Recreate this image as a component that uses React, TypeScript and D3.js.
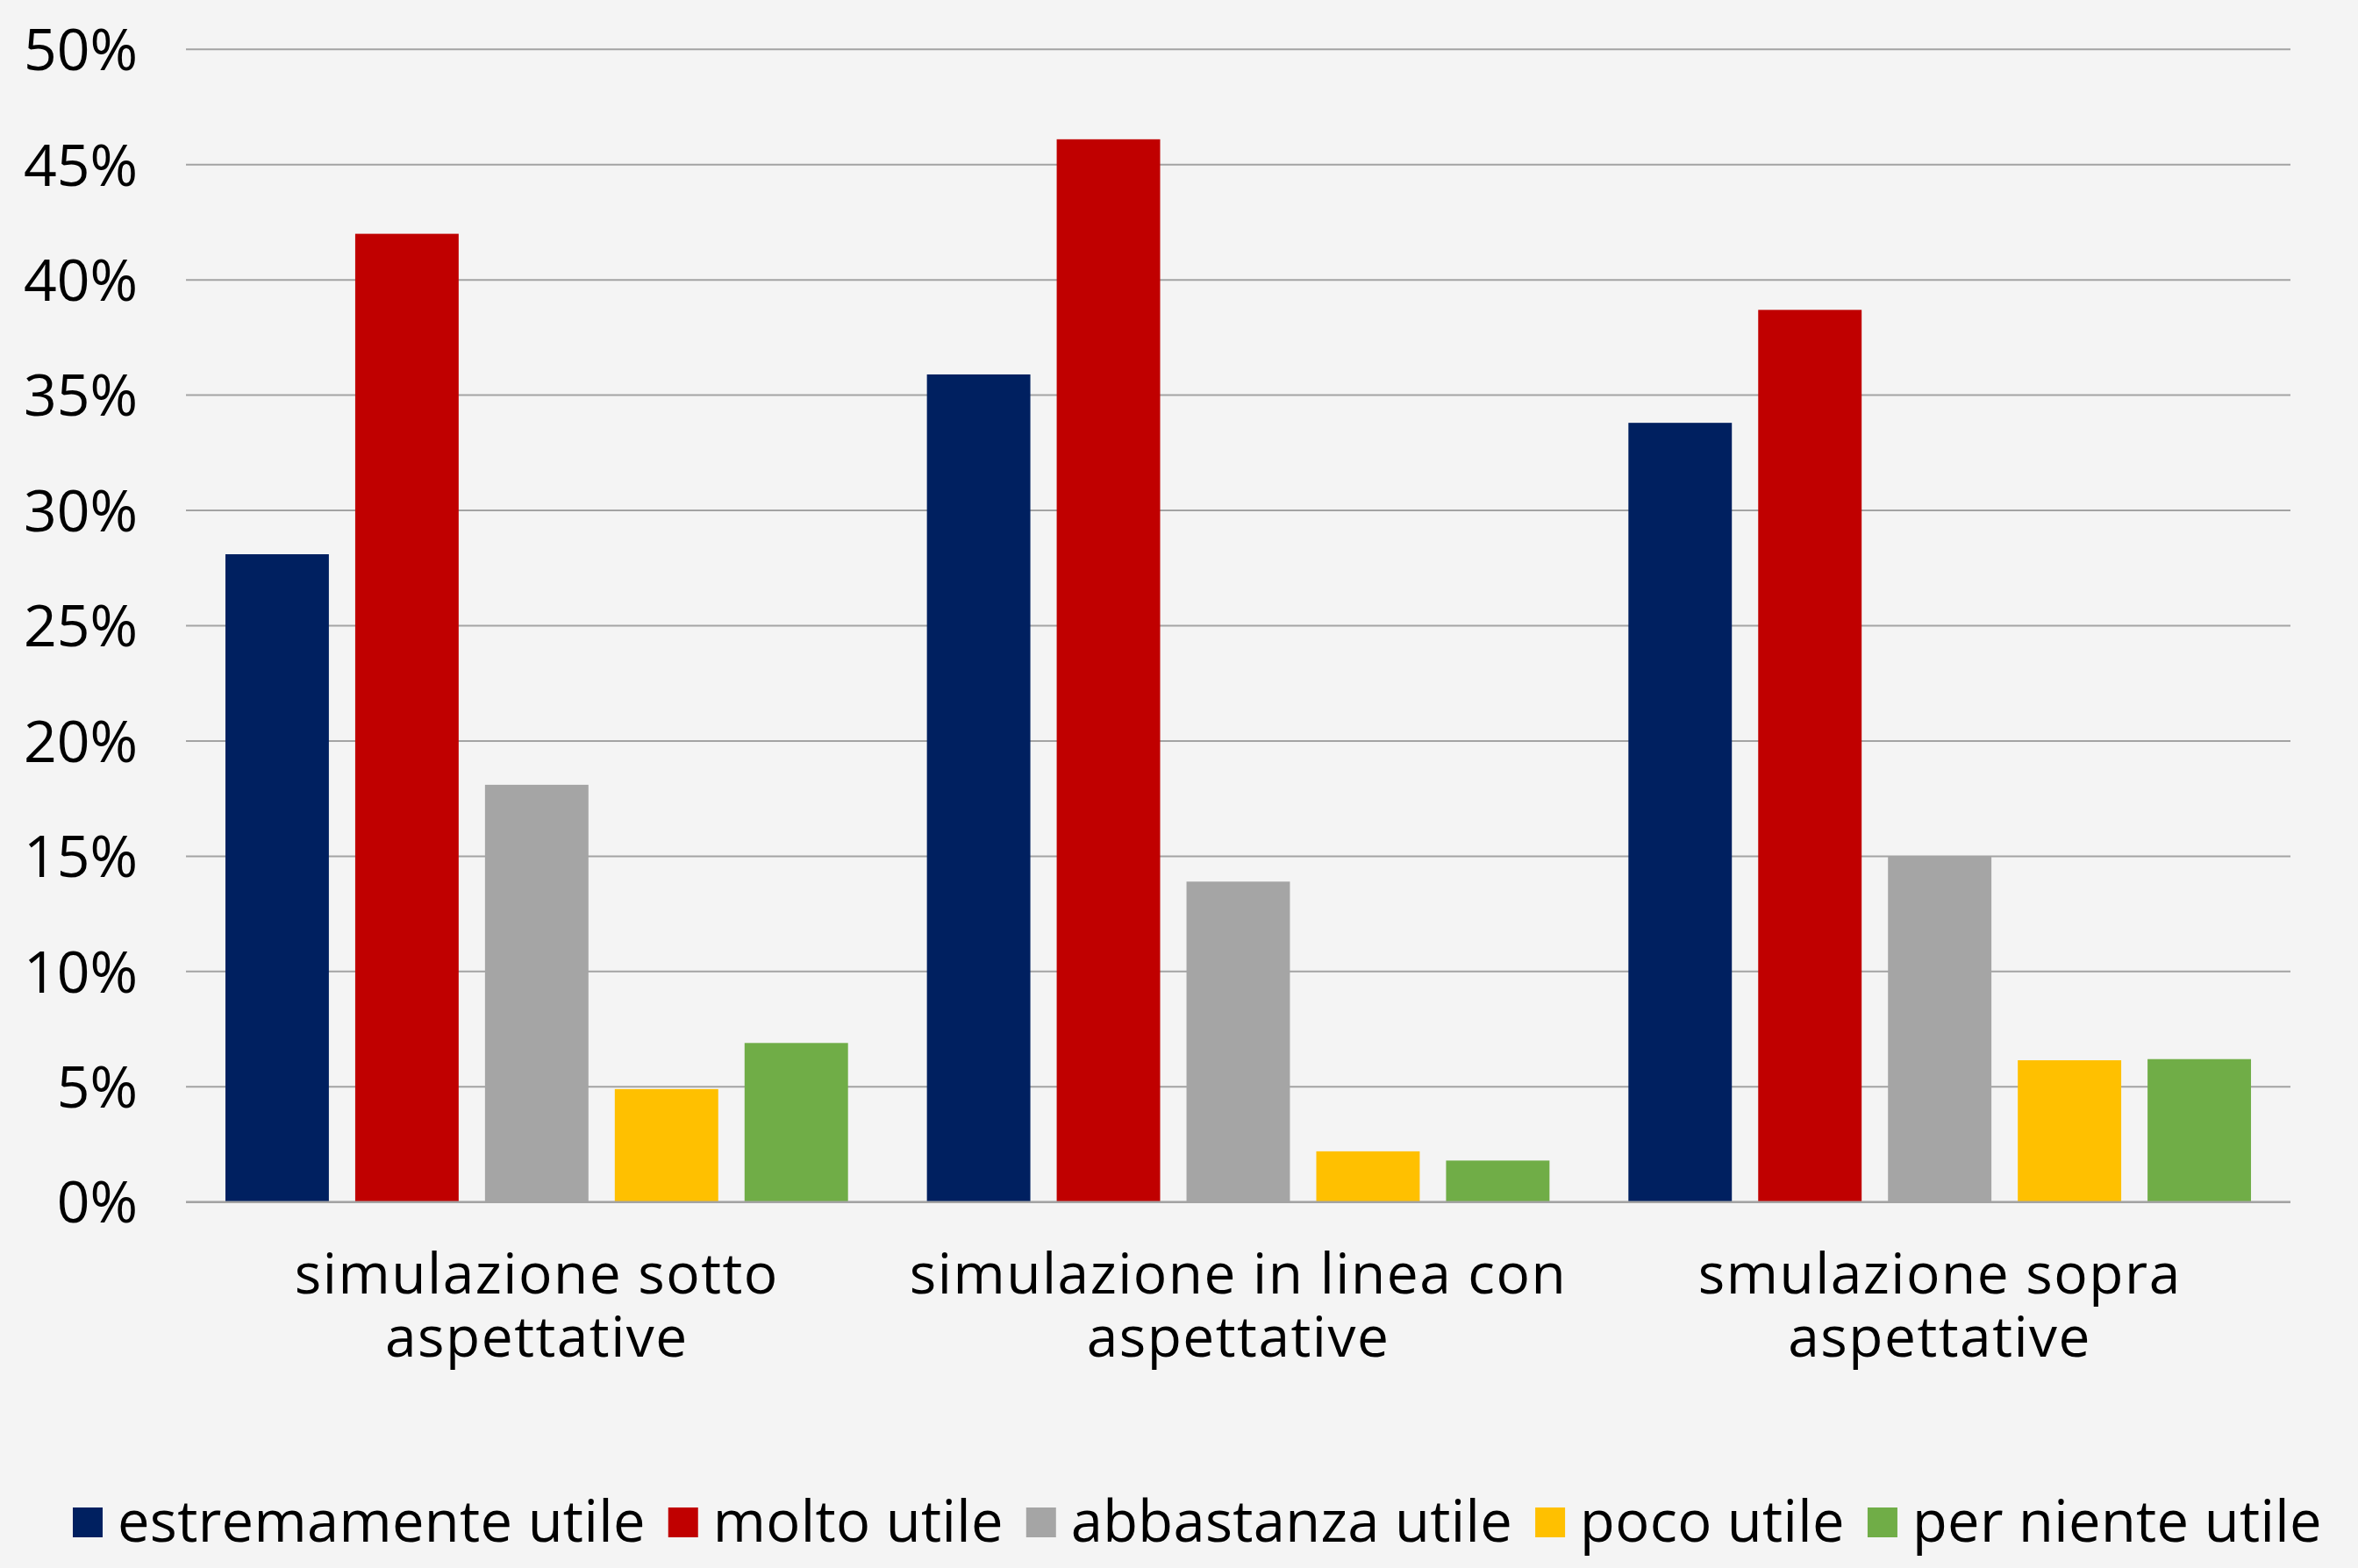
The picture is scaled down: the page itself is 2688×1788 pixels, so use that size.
import React from "react";
import * as d3 from "d3";

const categories = [
  ["simulazione sotto", "aspettative"],
  ["simulazione in linea con", "aspettative"],
  ["smulazione sopra", "aspettative"],
];
const seriesNames = [
  "estremamente utile",
  "molto utile",
  "abbastanza utile",
  "poco utile",
  "per niente utile",
];
const seriesColors = ["#002060", "#C00000", "#A5A5A5", "#FFC000", "#70AD47"];
// values per category, per series (fractions)
const estremamente = [0.281, 0.359, 0.338];
const molto = [0.42, 0.461, 0.387];
const abbastanza = [0.181, 0.139, 0.15];
const poco = [0.049, 0.022, 0.0615];
const perNiente = [0.069, 0.018, 0.062];
const seriesValues = [estremamente, molto, abbastanza, poco, perNiente];
const yTicks = [0, 0.05, 0.1, 0.15, 0.2, 0.25, 0.3, 0.35, 0.4, 0.45, 0.5];

const W = 2688;
const H = 1788;
const FONT = "'Open Sans', 'DejaVu Sans', sans-serif";

function measure(text: string, size: number, ls: number) {
  const c = document.createElement("canvas");
  const ctx = c.getContext("2d")!;
  ctx.font = `${size}px 'Open Sans'`;
  return ctx.measureText(text).width + ls * text.length;
}

export default function App() {
  if (typeof document !== "undefined") document.body.style.margin = "0";
  const x0 = d3
    .scaleBand<number>()
    .domain(categories.map((_, i) => i))
    .range([212, 2611])
    .paddingInner(0)
    .paddingOuter(0);
  const x1 = d3
    .scaleBand<number>()
    .domain(seriesNames.map((_, i) => i))
    .range([0, x0.bandwidth()])
    .paddingInner(0.203)
    .paddingOuter(0.304);
  const y = d3.scaleLinear().domain([0, 0.5]).range([1370.7, 56.3]);
  const fmt = d3.format(".0%");

  const legendSize = 65;
  const legendLS = 0.35;
  let lx = 83;
  const legendItems = seriesNames.map((name, i) => {
    const w = measure(name, legendSize, legendLS);
    const item = { name, color: seriesColors[i], x: lx, w };
    lx += 34 + 17 + w + 26;
    return item;
  });

  return (
    <svg
      width={W}
      height={H}
      style={{ position: "absolute", left: 0, top: 0, background: "#F4F4F4" }}
      fontFamily={FONT}
    >
      <rect x={0} y={0} width={W} height={H} fill="#F4F4F4" />
      {yTicks.map((t) => (
        <g key={t}>
          <line
            x1={212}
            x2={2611}
            y1={y(t)}
            y2={y(t)}
            stroke="#A3A3A3"
            strokeWidth={2}
          />
          <text
            x={157}
            y={y(t)}
            dy="0.36em"
            textAnchor="end"
            fontSize={66}
            fill="#000"
          >
            {fmt(t)}
          </text>
        </g>
      ))}
      {categories.map((cat, ci) => (
        <g key={ci} transform={`translate(${x0(ci)},0)`}>
          {seriesValues.map((vals, si) => (
            <rect
              key={si}
              x={x1(si)}
              y={y(vals[ci])}
              width={x1.bandwidth()}
              height={y(0) - y(vals[ci])}
              fill={seriesColors[si]}
            />
          ))}
          {cat.map((line, li) => (
            <text
              key={li}
              x={x0.bandwidth() / 2}
              y={1475 + li * 72}
              textAnchor="middle"
              fontSize={64}
              letterSpacing={1.5}
              fill="#000"
            >
              {line}
            </text>
          ))}
        </g>
      ))}
      <line x1={212} x2={2611} y1={y(0)} y2={y(0)} stroke="#A3A3A3" strokeWidth={2.5} />
      {legendItems.map((it) => (
        <g key={it.name}>
          <rect x={it.x} y={1719} width={34} height={34} fill={it.color} />
          <text
            x={it.x + 34 + 17}
            y={1758}
            fontSize={legendSize}
            letterSpacing={legendLS}
            fill="#000"
          >
            {it.name}
          </text>
        </g>
      ))}
    </svg>
  );
}
